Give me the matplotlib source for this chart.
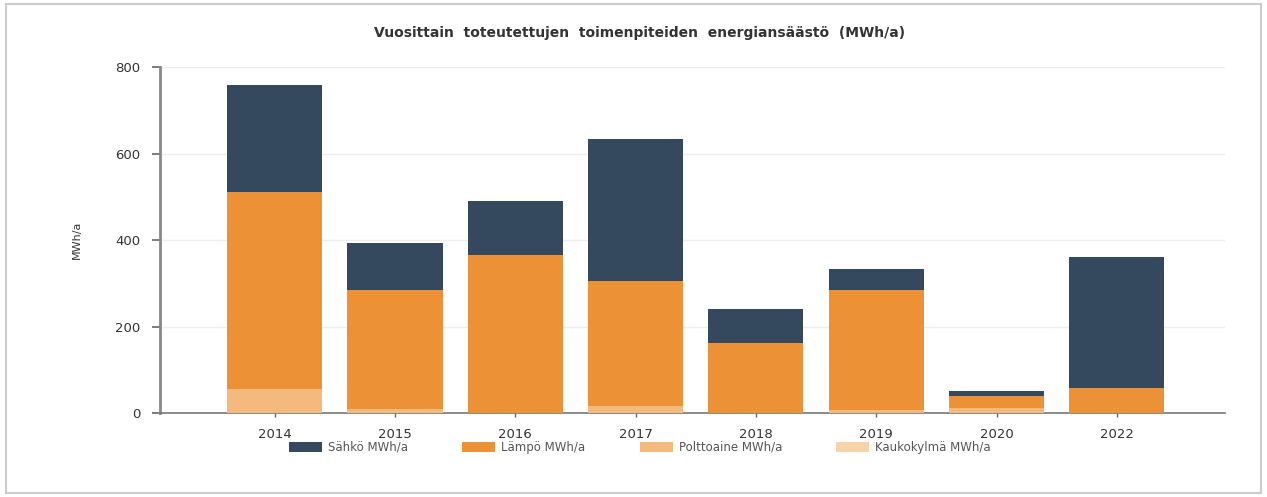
import matplotlib
matplotlib.use("Agg")
import matplotlib.pyplot as plt
from matplotlib.patches import Rectangle
import numpy as np

years = ["2014", "2015", "2016", "2017", "2018", "2019", "2020", "2022"]
kaukokylma = [0, 0, 0, 0, 0, 0, 0, 0]
polttoaine = [55, 9, 0, 16, 0, 8, 11, 0]
lampo_total = [511, 284, 365, 305, 162, 284, 39, 58]
totals = [758, 393, 490, 633, 240, 333, 51, 361]
lampo = [l - p - k for l, p, k in zip(lampo_total, polttoaine, kaukokylma)]
sahko = [t - l for t, l in zip(totals, lampo_total)]

series_names = ["Sähkö MWh/a", "Lämpö MWh/a", "Polttoaine MWh/a", "Kaukokylmä MWh/a"]
colors = ["#34495e", "#ec9136", "#f4b97c", "#f8d3aa"]

fig = plt.figure(figsize=(12.67, 4.97), dpi=100)
ax = fig.add_axes([0.126, 0.169, 0.841, 0.696])

x = np.arange(len(years))
w = 0.79
b = np.zeros(len(years))
stack = [("k", kaukokylma, 3), ("p", polttoaine, 2), ("l", lampo, 1), ("s", sahko, 0)]
handles = {}
for key, vals, ci in stack:
    h = ax.bar(x, vals, w, bottom=b, color=colors[ci], edgecolor="none", zorder=3)
    handles[ci] = h
    b = b + np.array(vals)

ax.set_xlim(-0.956, 7.9)
ax.set_ylim(0, 800)
ax.set_yticks([0, 200, 400, 600, 800])
ax.set_xticks(x)
ax.set_xticklabels(years)
ax.yaxis.grid(True, color="#eeeeee", linewidth=1, zorder=0)
ax.tick_params(axis="y", labelsize=9.5, length=6, width=1.2, direction="out", pad=8,
               color="#666666")
ax.tick_params(axis="x", labelsize=9.5, length=3, width=1, direction="out", pad=8,
               color="#666666")
for lbl in ax.get_xticklabels() + ax.get_yticklabels():
    lbl.set_color("#333333")
ax.spines["top"].set_visible(False)
ax.spines["right"].set_visible(False)
ax.spines["left"].set_color("#888888")
ax.spines["left"].set_linewidth(2)
ax.spines["bottom"].set_color("#777777")
ax.spines["bottom"].set_linewidth(1.2)

ax.set_ylabel("MWh/a", fontsize=8, color="#333333", labelpad=24)

fig.text(0.505, 0.934, "Vuosittain  toteutettujen  toimenpiteiden  energiansäästö  (MWh/a)",
         ha="center", va="center", fontsize=10, fontweight="bold", color="#333333")

fig.legend([handles[i] for i in range(4)], series_names, loc="center", ncol=4,
           bbox_to_anchor=(0.505, 0.1), frameon=False, fontsize=8.5,
           handlelength=2.8, handleheight=0.9, handletextpad=0.5, columnspacing=4.6,
           labelcolor="#555555")

fig.patches.append(Rectangle((0.005, 0.008), 0.99, 0.984, transform=fig.transFigure,
                             fill=False, edgecolor="#cccccc", linewidth=1.5))

fig.savefig("out.png", dpi=100)
